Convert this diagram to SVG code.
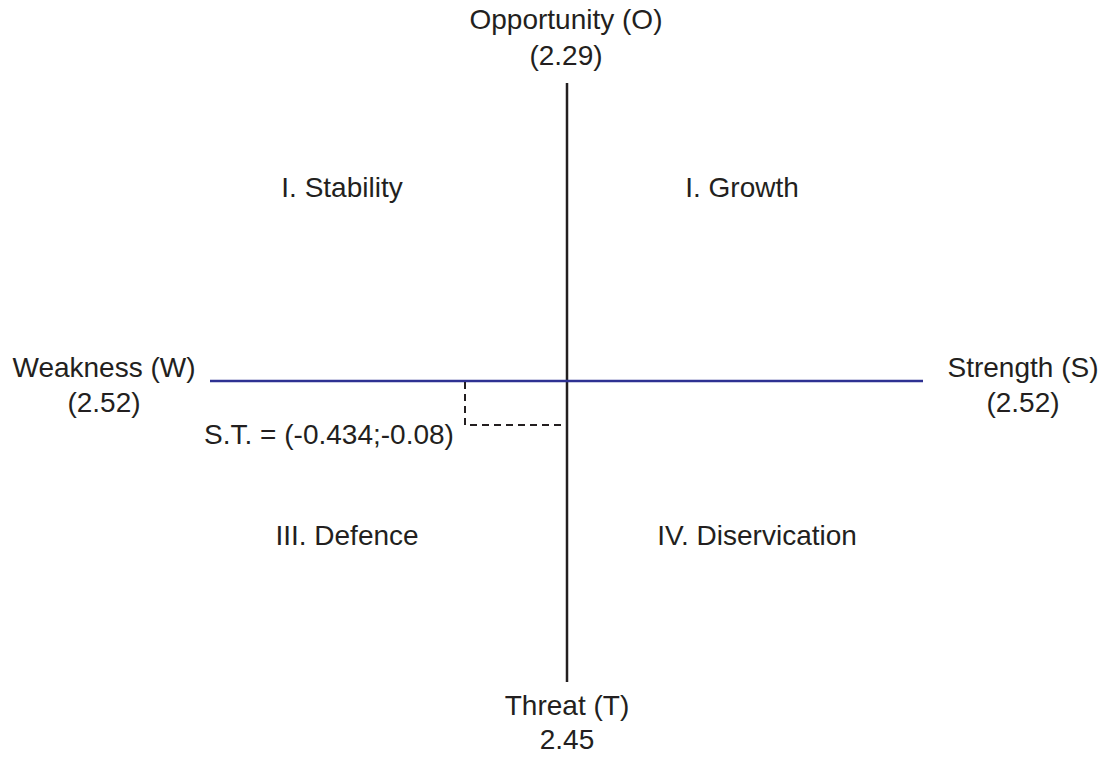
<svg xmlns="http://www.w3.org/2000/svg" width="1105" height="757" viewBox="0 0 1105 757">
<style>
text{font-family:"Liberation Sans",Arial,sans-serif;font-size:28px;fill:#231f20;text-anchor:middle}
.ax{stroke:#231f20;stroke-width:2.5;fill:none}
.hx{stroke:#2e3192;stroke-width:2.5;fill:none}
.dash{stroke:#231f20;stroke-width:2;stroke-dasharray:7,5;fill:none}
</style>
<rect width="1105" height="757" fill="#fff"/>
<g id="connectors">
<line class="ax" x1="567" y1="83" x2="567" y2="682"/>
<line class="hx" x1="210" y1="381" x2="923" y2="381"/>
<polyline class="dash" points="465,382 465,425 567,425"/>
</g>
<g id="opportunity"><text x="566" y="29">Opportunity (O)</text><text x="566" y="65">(2.29)</text></g>
<g id="threat"><text x="567" y="715">Threat (T)</text><text x="567" y="749">2.45</text></g>
<g id="weakness"><text x="104" y="377">Weakness (W)</text><text x="104" y="412">(2.52)</text></g>
<g id="strength"><text x="1023" y="377">Strength (S)</text><text x="1023" y="412">(2.52)</text></g>
<g id="st"><text x="329" y="444">S.T. = (-0.434;-0.08)</text></g>
<g id="q1"><text x="342" y="197">I. Stability</text></g>
<g id="q2"><text x="742" y="197">I. Growth</text></g>
<g id="q3"><text x="347" y="545">III. Defence</text></g>
<g id="q4"><text x="757" y="545">IV. Diservication</text></g>
</svg>
